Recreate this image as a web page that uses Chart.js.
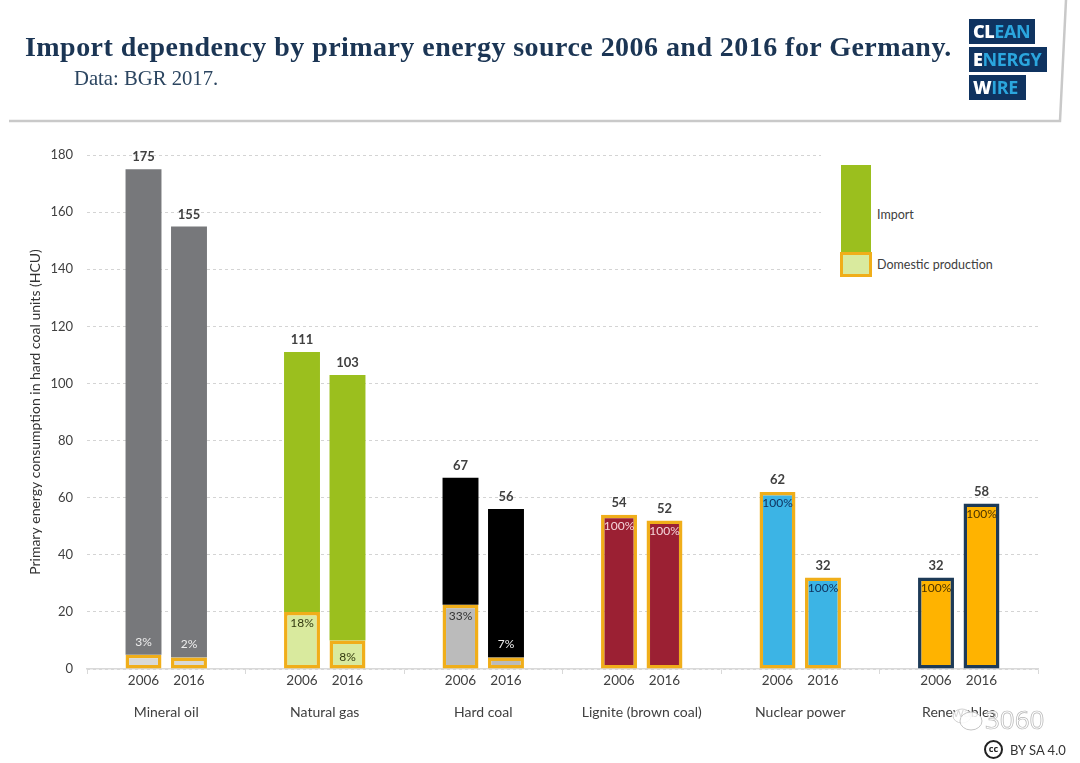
<!DOCTYPE html>
<html>
<head>
<meta charset="utf-8">
<title>Import dependency</title>
<script src="https://cdn.jsdelivr.net/npm/chart.js@4"></script>
<style>
    html, body { margin: 0; padding: 0; background: #fff; }
    #page { position: relative; width: 1080px; height: 763px; overflow: hidden; font-family: Lato, sans-serif; color: #404040; }
    #page > * { position: absolute; }
    canvas { left: 0; top: 0; }
    #title { left: 25px; top: 31px; font: bold 28px "Liberation Serif", serif; letter-spacing: 0.45px; color: #1b3554; white-space: nowrap; }
    #source { left: 74px; top: 67px; font: 20.7px "Liberation Serif", serif; color: #2b4560; white-space: nowrap; }
    .logo { background: #0f3360; color: #2ba6de; font: bold 18px "Open Sans", sans-serif; letter-spacing: -0.4px; line-height: 25px; height: 25px; padding-left: 4px; box-sizing: border-box; overflow: hidden; }
    .logo b { color: #fff; }
    #legendBack { left: 821px; top: 150px; width: 217px; height: 140px; background: #fff; }
    #legendImport { left: 841px; top: 165px; width: 30px; height: 87px; background: #9bbf1e; }
    #legendDomestic { left: 840px; top: 252px; width: 32px; height: 25px; background: #d9ea9e; border: 3px solid #f0ae1a; box-sizing: border-box; }
    .legendText { left: 877px; font-size: 12.5px; white-space: nowrap; }
    #mark { left: 985px; top: 701px; font: 26px "Open Sans", sans-serif; color: #fff; -webkit-text-stroke: 0.7px #b5b5b5; }
    #cc { left: 984px; top: 740px; width: 19px; height: 19px; border: 2.5px solid #222; border-radius: 50%; box-sizing: border-box; font: bold 9px "Open Sans", sans-serif; line-height: 13px; text-align: center; color: #222; }
    #licence { left: 1010px; top: 742px; font-size: 13px; color: #333; white-space: nowrap; }
</style>
</head>
<body>
<div id="page">
    <canvas id="chart" width="1080" height="763"></canvas>
    <svg width="1080" height="130" style="left:0;top:0">
        <polyline points="1066,0 1060,121 9,121" fill="none" stroke="#c9c9c9" stroke-width="2.5"/>
    </svg>
    <svg width="40" height="34" style="left:948px;top:703px">
        <ellipse cx="14" cy="13" rx="9" ry="7" fill="#fff" fill-opacity="0.8" stroke="#d0d0d0"/>
        <ellipse cx="23" cy="18" rx="11" ry="9" fill="#fff" fill-opacity="0.85" stroke="#c4c4c4"/>
    </svg>
    <div id="title">Import dependency by primary energy source 2006 and 2016 for Germany.</div>
    <div id="source">Data: BGR 2017.</div>
    <div class="logo" style="left:969px;top:19px;width:66px"><b>CL</b>EAN</div>
    <div class="logo" style="left:969px;top:47px;width:78px"><b>E</b>NERGY</div>
    <div class="logo" style="left:969px;top:75px;width:57px"><b>W</b>IRE</div>
    <div id="legendBack"></div>
    <div id="legendImport"></div>
    <div id="legendDomestic"></div>
    <div class="legendText" style="top:207px">Import</div>
    <div class="legendText" style="top:257px">Domestic production</div>
    <div id="mark">3060</div>
    <div id="cc">cc</div>
    <div id="licence">BY SA 4.0</div>
</div>
<script>
const categories = ['Mineral oil', 'Natural gas', 'Hard coal', 'Lignite (brown coal)', 'Nuclear power', 'Renewables'];
const years = ['2006', '2016'];
const domestic2006 = [5, 20, 22.5, 54, 62, 32];
const import2006 = [170, 91, 44.5, 0, 0, 0];
const domestic2016 = [4, 10, 4, 52, 32, 58];
const import2016 = [151, 93, 52, 0, 0, 0];
const share2006 = ['3%', '18%', '33%', '100%', '100%', '100%'];
const share2016 = ['2%', '8%', '7%', '100%', '100%', '100%'];

const importColors = ['#77787b', '#9bbf1e', '#000000', '#9b2033', '#3cb4e5', '#ffb300'];
const domesticColors = ['#d9d9d6', '#d9ea9e', '#bbbbbb', '#9b2033', '#3cb4e5', '#ffb300'];
const domesticBorders = ['#f0ae1a', '#f0ae1a', '#f0ae1a', '#f0ae1a', '#f0ae1a', '#1d3a57'];
const shareColors = ['#eeeeee', '#333a10', '#333333', '#f5d5da', '#0f3360', '#4a3300'];
const font = 'Lato';

// labels the library has no option for: totals, shares and the year row
const barLabels = {
    id: 'barLabels',
    afterDatasetsDraw(chart) {
        const ctx = chart.ctx;
        const yScale = chart.scales.y;
        const groups = [[0, 1, share2006], [2, 3, share2016]];
        ctx.save();
        ctx.textAlign = 'center';
        ctx.textBaseline = 'middle';
        groups.forEach(([domIdx, impIdx, shares], g) => {
            const domestic = chart.data.datasets[domIdx].data;
            const imported = chart.data.datasets[impIdx].data;
            categories.forEach((c, i) => {
                const el = chart.getDatasetMeta(domIdx).data[i];
                const total = domestic[i] + imported[i];

                ctx.font = 'bold 13px ' + font;
                ctx.fillStyle = '#404040';
                ctx.fillText(total, el.x, yScale.getPixelForValue(total) - 12);

                ctx.font = '13.5px ' + font;
                ctx.fillText(years[g], el.x, chart.chartArea.bottom + 12);

                // thin boxes get the share above them, the others inside the top
                const top = yScale.getPixelForValue(domestic[i]);
                const above = domestic[i] < 6;
                ctx.font = '12px ' + font;
                ctx.fillStyle = above ? '#eeeeee' : shareColors[i];
                ctx.fillText(shares[i], el.x, above ? top - 13 : top + (domestic[i] <= 10 ? 17 : 11));
            });
        });
        ctx.restore();
    }
};

function stackDatasets(year, domestic, imported) {
    return [
        {
            label: 'Domestic production ' + year,
            stack: year,
            data: domestic,
            backgroundColor: domesticColors,
            borderColor: domesticBorders,
            borderWidth: 3.5,
            borderSkipped: false
        },
        {
            label: 'Import ' + year,
            stack: year,
            data: imported,
            backgroundColor: importColors,
            borderWidth: 0
        }
    ];
}

new Chart(document.getElementById('chart').getContext('2d'), {
    type: 'bar',
    data: {
        labels: categories,
        datasets: [
            ...stackDatasets(years[0], domestic2006, import2006),
            ...stackDatasets(years[1], domestic2016, import2016)
        ]
    },
    plugins: [barLabels],
    options: {
        responsive: false,
        animation: false,
        devicePixelRatio: 1,
        categoryPercentage: 0.574,
        barPercentage: 0.79,
        layout: { padding: { left: 27, right: 42, top: 155, bottom: 29 } },
        plugins: {
            legend: { display: false },
            tooltip: { enabled: false }
        },
        scales: {
            x: {
                stacked: true,
                afterFit(scale) { scale.height = 65; },
                grid: { drawOnChartArea: false, drawTicks: true, tickLength: 5, color: '#d9d9d9' },
                border: { color: '#d9d9d9', width: 1.5 },
                ticks: { color: '#404040', font: { family: font, size: 14 }, padding: 30, maxRotation: 0, autoSkip: false }
            },
            y: {
                stacked: true,
                min: 0,
                max: 180,
                afterFit(scale) { scale.width = 60; },
                grid: { color: '#d4d4d4', drawTicks: false },
                border: { display: false, dash: [3, 3] },
                ticks: { stepSize: 20, color: '#404040', font: { family: font, size: 13 }, padding: 14 },
                title: {
                    display: true,
                    text: 'Primary energy consumption in hard coal units (HCU)',
                    color: '#333333',
                    font: { family: font, size: 14 },
                    padding: 0
                }
            }
        }
    }
});
</script>
</body>
</html>
